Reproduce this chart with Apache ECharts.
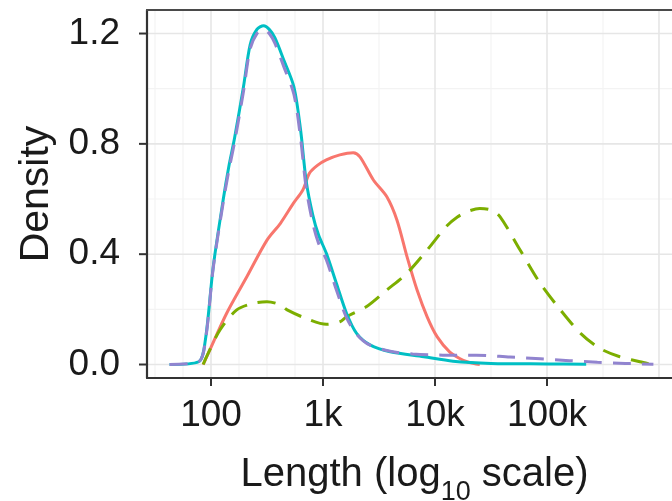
<!DOCTYPE html>
<html>
<head>
<meta charset="utf-8">
<script src="https://cdn.jsdelivr.net/npm/echarts@6/dist/echarts.min.js"></script>
<style>
html,body{margin:0;padding:0;background:#fff;}
#chart{width:672px;height:501px;}
</style>
</head>
<body>
<div id="chart"></div>
<script>
// x values are log10(length)
const redX    = [1.93, 1.99, 2.14, 2.32, 2.50, 2.62, 2.735, 2.82, 2.88, 2.95, 3.03, 3.15, 3.27, 3.33, 3.45, 3.57, 3.66, 3.75, 3.84, 3.93, 4.02, 4.13, 4.22, 4.30, 4.40];
const redY    = [0.0, 0.053, 0.186, 0.318, 0.451, 0.512, 0.584, 0.633, 0.694, 0.722, 0.742, 0.760, 0.768, 0.753, 0.669, 0.608, 0.524, 0.391, 0.270, 0.173, 0.100, 0.046, 0.022, 0.008, 0.0];

const greenX  = [1.93, 1.96, 2.08, 2.23, 2.38, 2.50, 2.62, 2.68, 2.85, 3.03, 3.15, 3.21, 3.39, 3.57, 3.75, 3.93, 4.10, 4.20, 4.30, 4.40, 4.50, 4.58, 4.76, 4.94, 5.12, 5.30, 5.47, 5.65, 5.83, 5.92];
const greenY  = [0.0, 0.028, 0.125, 0.198, 0.222, 0.228, 0.216, 0.198, 0.167, 0.146, 0.155, 0.173, 0.210, 0.270, 0.331, 0.415, 0.500, 0.535, 0.556, 0.566, 0.560, 0.536, 0.415, 0.294, 0.198, 0.113, 0.059, 0.028, 0.010, 0.002];

const cyanX   = [1.63, 1.89, 1.95, 2.02, 2.11, 2.16, 2.21, 2.29, 2.35, 2.41, 2.47, 2.52, 2.57, 2.65, 2.74, 2.80, 2.85, 2.91, 2.96, 3.03, 3.12, 3.21, 3.30, 3.42, 3.60, 3.90, 4.16, 4.50, 5.00, 5.35];
const cyanY   = [0.0, 0.010, 0.090, 0.355, 0.600, 0.720, 0.820, 1.007, 1.160, 1.215, 1.228, 1.215, 1.185, 1.104, 1.007, 0.850, 0.665, 0.540, 0.470, 0.403, 0.294, 0.186, 0.113, 0.071, 0.046, 0.028, 0.012, 0.004, 0.002, 0.001];

const purpleX = [1.63, 1.89, 1.95, 2.02, 2.11, 2.16, 2.21, 2.29, 2.35, 2.41, 2.47, 2.52, 2.57, 2.65, 2.74, 2.80, 2.85, 2.91, 2.96, 3.03, 3.12, 3.21, 3.30, 3.42, 3.60, 3.80, 4.07, 4.37, 4.67, 4.94, 5.20, 5.45, 5.70, 5.95];
const purpleY = [0.0, 0.010, 0.085, 0.350, 0.590, 0.705, 0.805, 0.990, 1.145, 1.200, 1.215, 1.200, 1.165, 1.080, 0.980, 0.820, 0.640, 0.510, 0.440, 0.380, 0.270, 0.170, 0.110, 0.070, 0.048, 0.038, 0.034, 0.034, 0.027, 0.021, 0.014, 0.008, 0.004, 0.001];

const xTickValues = [2, 3, 4, 5];
const xTickLabels = ['100', '1k', '10k', '100k'];
const yTickValues = [0, 0.4, 0.8, 1.2];
const yTickLabels = ['0.0', '0.4', '0.8', '1.2'];
const xMajorGrid = [2, 3, 4, 5, 6];
const xMinorGrid = [1.5, 1.75, 2.25, 2.5, 2.75, 3.5, 4.5, 5.5];
const yMajorGrid = [0, 0.4, 0.8, 1.2];
const yMinorGrid = [0.2, 0.6, 1.0];

const X_MIN = 1.4286, X_MAX = 6.2054, Y_MIN = -0.0489, Y_MAX = 1.2853;

const zip = (xs, ys) => xs.map((x, i) => [x, ys[i]]);

const FONT = 'Liberation Sans, Arial, sans-serif';
const TXT = '#1a1a1a';

function lineSeries(name, xs, ys, color, dashed, z) {
  return {
    name, type: 'line', data: zip(xs, ys), showSymbol: false, symbol: 'none',
    smooth: 0.3, z,
    lineStyle: {color, width: 3, type: dashed ? [18, 11] : 'solid'},
    silent: true, animation: false
  };
}

// grid lines, drawn through the chart's coordinate system
function gridSeries(values, isX, color, width) {
  return {
    type: 'custom', silent: true, clip: true, z: 0, animation: false,
    data: values.map(v => [v]),
    renderItem: (params, api) => {
      const v = api.value(0);
      const a = isX ? api.coord([v, Y_MIN]) : api.coord([X_MIN, v]);
      const b = isX ? api.coord([v, Y_MAX]) : api.coord([X_MAX, v]);
      return {type: 'line', shape: {x1: a[0], y1: a[1], x2: b[0], y2: b[1]}, style: {stroke: color, lineWidth: width, lineCap: 'butt'}};
    }
  };
}

// axis tick marks positioned through the chart's own coordinate system
function tickSeries(values, isX) {
  return {
    type: 'custom', silent: true, clip: false, z: 10, animation: false,
    data: values.map(v => [v]),
    renderItem: (params, api) => {
      const v = api.value(0);
      const p = isX ? api.coord([v, Y_MIN]) : api.coord([X_MIN, v]);
      const shape = isX ? {x1: p[0], y1: p[1], x2: p[0], y2: p[1] + 8}
                        : {x1: p[0], y1: p[1], x2: p[0] - 8, y2: p[1]};
      return {type: 'line', shape, style: {stroke: '#333', lineWidth: 2}};
    }
  };
}

const chart = echarts.init(document.getElementById('chart'), null, {renderer: 'canvas'});
chart.setOption({
  animation: false,
  backgroundColor: '#ffffff',
  grid: {left: 147, top: 10, width: 535, height: 368, show: false, containLabel: false, outerBoundsMode: 'none'},
  xAxis: [{
    type: 'value', min: X_MIN, max: X_MAX,
    name: '{a|Length (log}{s|10}{a| scale)}',
    nameLocation: 'middle', nameGap: 66,
    nameTextStyle: {
      rich: {
        a: {fontFamily: FONT, fontSize: 40, color: TXT, lineHeight: 50, verticalAlign: 'middle'},
        s: {fontFamily: FONT, fontSize: 27, color: TXT, lineHeight: 62, verticalAlign: 'bottom'}
      }
    },
    axisLine: {show: true, onZero: false, lineStyle: {color: '#333', width: 2.2}},
    axisTick: {show: false},
    axisLabel: {
      customValues: xTickValues, margin: 19,
      fontFamily: FONT, fontSize: 37, color: TXT,
      formatter: v => xTickLabels[xTickValues.indexOf(Math.round(v))] || ''
    },
    splitLine: {show: false}, minorTick: {show: false}, minorSplitLine: {show: false}
  }, {
    type: 'value', min: X_MIN, max: X_MAX, position: 'top',
    axisLine: {show: true, onZero: false, lineStyle: {color: '#4a4a4a', width: 2.2}},
    axisTick: {show: false}, axisLabel: {show: false},
    splitLine: {show: false}, minorTick: {show: false}, minorSplitLine: {show: false}
  }],
  yAxis: {
    type: 'value', min: Y_MIN, max: Y_MAX,
    name: 'Density', nameLocation: 'middle', nameGap: 89, nameRotate: 90,
    nameTextStyle: {fontFamily: FONT, fontSize: 41, color: TXT},
    axisLine: {show: true, onZero: false, lineStyle: {color: '#333', width: 2.2}},
    axisTick: {show: false},
    axisLabel: {
      customValues: yTickValues, margin: 27,
      fontFamily: FONT, fontSize: 37, color: TXT,
      formatter: v => yTickLabels[yTickValues.findIndex(t => Math.abs(t - v) < 1e-6)] || ''
    },
    splitLine: {show: false}, minorTick: {show: false}, minorSplitLine: {show: false}
  },
  series: [
    gridSeries(xMinorGrid, true, '#f3f3f3', 1.2),
    gridSeries(yMinorGrid, false, '#f3f3f3', 1.2),
    gridSeries(xMajorGrid, true, '#e6e6e6', 1.6),
    gridSeries(yMajorGrid, false, '#e6e6e6', 1.6),
    lineSeries('red', redX, redY, '#F8766D', false, 2),
    lineSeries('green', greenX, greenY, '#7CAE00', true, 3),
    lineSeries('cyan', cyanX, cyanY, '#00BFC4', false, 4),
    lineSeries('purple', purpleX, purpleY, '#9184CF', true, 5),
    tickSeries(xTickValues, true),
    tickSeries(yTickValues, false)
  ]
});
</script>
</body>
</html>
